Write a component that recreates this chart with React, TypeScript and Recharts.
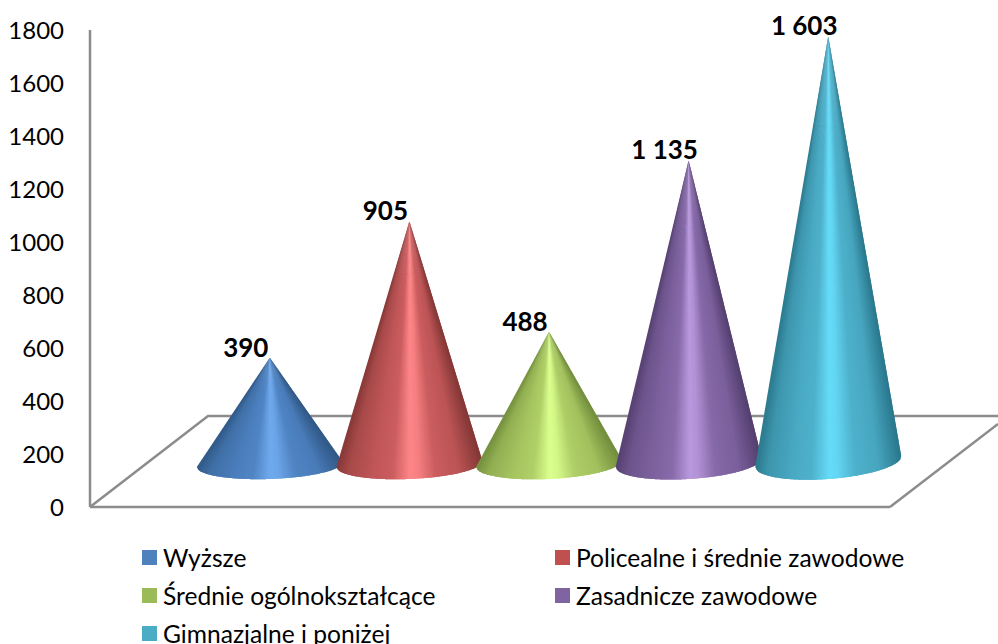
import { Bar, BarChart, LabelList, Legend, XAxis, YAxis } from "recharts";

const names = [
  "Wyższe",
  "Policealne i średnie zawodowe",
  "Średnie ogólnokształcące",
  "Zasadnicze zawodowe",
  "Gimnazjalne i poniżej",
];
const values = [390, 905, 488, 1135, 1603];
const yTicks = [0, 200, 400, 600, 800, 1000, 1200, 1400, 1600, 1800];

const legendColors = ["#4f81bd", "#c0504d", "#9bbb59", "#8064a2", "#4bacc6"];
const edgeColors = ["#2f5683", "#7f3533", "#6f8a3a", "#513d6c", "#287488"];
const midColors = ["#4c80bf", "#c4585a", "#a9c862", "#8064a2", "#4bacc6"];
const lightColors = ["#70aaee", "#ff8688", "#dbff8e", "#ba99de", "#66dcf9"];
// the base ellipse leans more the further right the cone stands
const baseTilt = [5, 6, 7, 9, 11];
// shading across the cone: position, tone (-1 edge, 0 mid, 1 highlight)
const shade = [
  [0, -0.9],
  [0.08, -0.4],
  [0.25, -0.05],
  [0.38, 0.12],
  [0.5, 1],
  [0.56, 0.85],
  [0.68, 0.1],
  [0.84, -0.12],
  [1, -0.95],
];

const row: Record<string, string | number> = { name: "all" };
names.forEach((n, i) => {
  row[n] = values[i];
});
const chartData = [row];

const FONT = "Lato, 'Noto Sans', sans-serif";
const AXIS_COLOR = "#8c8c8c";
// fake 3D: cones stand on the floor, back and to the right of the front axis
const SHIFT_X = 59;
const LIFT_TOP = 46;
const LIFT_BASE = 40;
const HALF_BASE = 73;
const WEDGES = 60;

function mix(a: string, b: string, t: number) {
  const pa = [1, 3, 5].map((k) => parseInt(a.slice(k, k + 2), 16));
  const pb = [1, 3, 5].map((k) => parseInt(b.slice(k, k + 2), 16));
  return `rgb(${pa.map((v, k) => Math.round(v + (pb[k] - v) * t)).join(",")})`;
}

function toneAt(u: number) {
  for (let k = 1; k < shade.length; k++) {
    if (u <= shade[k][0]) {
      const t = (u - shade[k - 1][0]) / (shade[k][0] - shade[k - 1][0]);
      return shade[k - 1][1] + (shade[k][1] - shade[k - 1][1]) * t;
    }
  }
  return -1;
}

function Cone(props: any) {
  const { x, y, width, height, index } = props;
  const i = index as number;
  const cx = x + width / 2 + SHIFT_X;
  const apexY = y - LIFT_TOP;
  const tilt = baseTilt[i];
  const midY = y + height - LIFT_BASE - tilt / 2;
  const ry = 12 + tilt / 2;
  const len = Math.hypot(HALF_BASE, tilt / 2);
  const rim = (u: number) => {
    const c = 2 * u - 1;
    const s = Math.sqrt(Math.max(0, 1 - c * c));
    return [
      cx + HALF_BASE * c + ((tilt / 2) / len) * ry * s,
      midY - (tilt / 2) * c + (HALF_BASE / len) * ry * s,
    ];
  };
  const wedges = [];
  for (let k = 0; k < WEDGES; k++) {
    // each wedge runs under the next one so no seams show between them
    const pts = [k, k + 0.5, k + 1, k + 1.5, k + 2]
      .map((v) => Math.min(v / WEDGES, 1))
      .map(rim);
    const tone = toneAt((k + 0.5) / WEDGES);
    const color =
      tone < 0 ? mix(midColors[i], edgeColors[i], -tone) : mix(midColors[i], lightColors[i], tone);
    wedges.push(
      <path
        key={k}
        d={`M${cx} ${apexY} ${pts.map((p) => `L${p[0]} ${p[1]}`).join(" ")} Z`}
        fill={color}
      />,
    );
  }
  return <g>{wedges}</g>;
}

function ValueLabel(props: any) {
  const { x, y, width, value } = props;
  const text = String(value).replace(/\B(?=(\d{3})+$)/g, "\u00a0");
  return (
    <text
      x={x + width / 2 + SHIFT_X - 24}
      y={y - LIFT_TOP - 11}
      textAnchor="middle"
      dominantBaseline="central"
      fontFamily={FONT}
      fontWeight={700}
      fontSize={26}
      fill="#000"
    >
      {text}
    </text>
  );
}

function LegendBox() {
  return (
    <div
      style={{
        display: "grid",
        gridTemplateColumns: "413px 400px",
        gridAutoRows: "38px",
        fontFamily: FONT,
        fontSize: 24.6,
        color: "#000",
      }}
    >
      {names.map((n, i) => (
        <div key={n} style={{ display: "flex", alignItems: "center", whiteSpace: "nowrap" }}>
          <span
            style={{
              width: 15,
              height: 15,
              marginRight: 6,
              background: legendColors[i],
              flexShrink: 0,
            }}
          />
          {n}
        </div>
      ))}
    </div>
  );
}

export default function App() {
  return (
    <div style={{ position: "absolute", left: 0, top: 0, width: 998, height: 644, overflow: "hidden" }}>
      <BarChart
        width={998}
        height={644}
        data={chartData}
        margin={{ top: 30, right: 108, bottom: 136, left: 0 }}
        barSize={139.6}
        barGap={0}
      >
        <polyline
          points="90,507 208,416 998,416"
          fill="none"
          stroke={AXIS_COLOR}
          strokeWidth={2.5}
        />
        <line x1={890} y1={507} x2={998} y2={424} stroke={AXIS_COLOR} strokeWidth={2.5} />
        <XAxis
          dataKey="name"
          height={1}
          tick={false}
          tickLine={false}
          axisLine={{ stroke: AXIS_COLOR, strokeWidth: 2.5 }}
        />
        <YAxis
          width={90}
          domain={[0, 1800]}
          ticks={yTicks}
          interval={0}
          tickLine={false}
          tickSize={0}
          tickMargin={26}
          axisLine={{ stroke: AXIS_COLOR, strokeWidth: 2.5 }}
          tick={{ fill: "#000", fontFamily: FONT, fontSize: 24 }}
        />
        <Legend
          verticalAlign="middle"
          layout="horizontal"
          content={<LegendBox />}
          wrapperStyle={{ left: 142, top: 538, width: 830, bottom: "auto" }}
        />
        {names.map((n, i) => (
          <Bar key={n} dataKey={n} name={n} fill={legendColors[i]} shape={(p: any) => <Cone {...p} index={i} />} isAnimationActive={false}>
            <LabelList dataKey={n} content={<ValueLabel />} />
          </Bar>
        ))}
      </BarChart>
    </div>
  );
}
